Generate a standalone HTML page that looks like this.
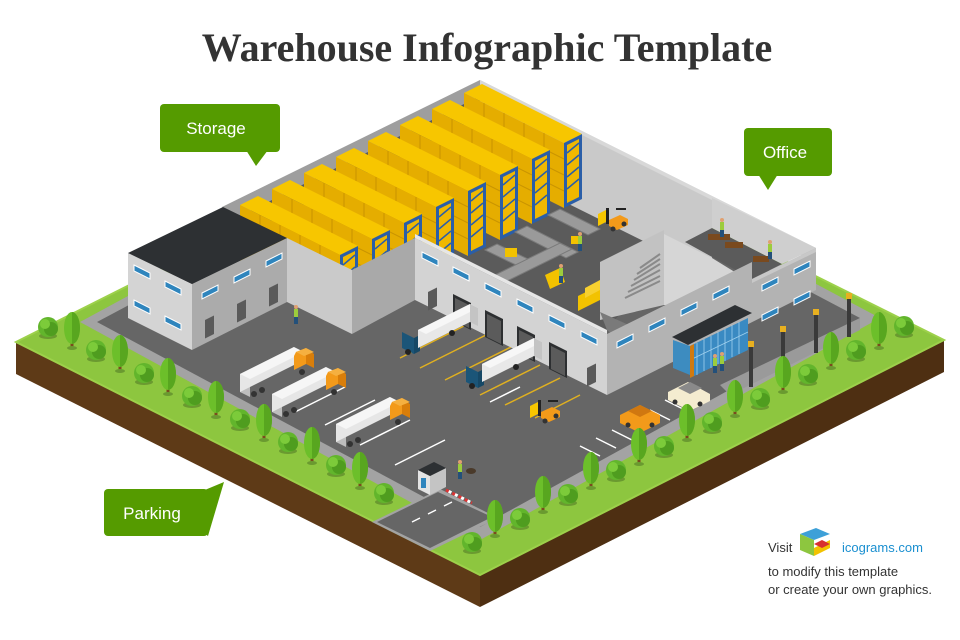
<!DOCTYPE html>
<html><head><meta charset="utf-8"><style>
html,body{margin:0;padding:0;background:#fff;}
svg{display:block}
</style></head><body>
<svg width="960" height="640" viewBox="0 0 960 640" xmlns="http://www.w3.org/2000/svg" font-family="Liberation Sans, sans-serif">
<defs>
<g id="tree"><rect x="-1.5" y="-6" width="3" height="8" fill="#7a4a1e"/><ellipse cx="0" cy="1" rx="5" ry="2" fill="#6a9a30"/><ellipse cx="0" cy="-19" rx="8" ry="16" fill="#6cbf2a"/><path d="M0,-35 A8,16 0 0 1 0,-3 Z" fill="#58a61f"/></g>
<g id="bush"><ellipse cx="0" cy="9" rx="9" ry="3" fill="#6a9a30"/><circle cx="0" cy="0" r="10" fill="#62b52c"/><circle cx="3" cy="2" r="7" fill="#4f9d1f"/><circle cx="-3" cy="-3" r="5" fill="#7ccb3a"/></g>
<g id="truckO"><polygon points="0,0 10,5 10,-13 0,-18" fill="#bdbdbd"/><polygon points="0,0 54,-27 54,-45 0,-18" fill="#e6e6e6"/><polygon points="0,-18 54,-45 64,-40 10,-13" fill="#f6f6f6"/><polygon points="54,-22 66,-28 66,-44 56,-40 54,-36" fill="#f39a1a"/><polygon points="66,-28 74,-24 74,-38 66,-44" fill="#d97e0a"/><polygon points="56,-40 66,-44 74,-40 64,-36" fill="#f5b040"/><circle cx="14" cy="2" r="3" fill="#333"/><circle cx="22" cy="-2" r="3" fill="#333"/><circle cx="62" cy="-20" r="3" fill="#333"/></g>
<g id="truckB"><polygon points="0,0 12,6 12,-10 0,-16" fill="#1b5578"/><polygon points="12,6 18,3 18,-13 12,-10" fill="#164866"/><polygon points="16,0 68,-26 68,-44 16,-18" fill="#e8e8e8"/><polygon points="16,-18 68,-44 76,-40 24,-14" fill="#f7f7f7"/><polygon points="68,-26 76,-22 76,-40 68,-44" fill="#c4c4c4"/><circle cx="6" cy="4" r="3" fill="#222"/><circle cx="50" cy="-15" r="3" fill="#222"/></g>
<g id="winL"><polygon points="0,0 16,8 16,14 0,6" fill="#2f85bd" stroke="#fff" stroke-width="1"/></g>
<g id="winR"><polygon points="0,0 16,-8 16,-2 0,6" fill="#2f85bd" stroke="#fff" stroke-width="1"/></g>
<g id="doorL"><polygon points="0,0 18,9 18,36 0,27" fill="#2d2f31"/><polygon points="2,4 16,11 16,34 2,27" fill="#5b5b5b"/></g>
<g id="vent"><polygon points="0,0 9,-4.5 9,14 0,18.5" fill="#5a5a5a"/></g>
<g id="rack">
 <polygon points="0,0 100,50 118,41 18,-9" fill="#f7c600"/>
 <polygon points="0,0 100,50 100,115 0,65" fill="#e5ad00"/>
 <polygon points="100,50 118,41 118,106 100,115" fill="#2a5ea8"/>
 <polygon points="103,52 115,46 115,104 103,110" fill="#f0b800"/>
 <path d="M0,16 L100,66 M0,32 L100,82 M0,48 L100,98 M20,10 L20,75 M40,20 L40,85 M60,30 L60,95 M80,40 L80,105" stroke="#c99400" stroke-width="1"/>
 <path d="M103,60 L115,50 M103,72 L115,62 M103,84 L115,74 M103,96 L115,86" stroke="#2a5ea8" stroke-width="1.5"/>
</g>
<g id="person"><rect x="-2" y="-14" width="4" height="8" fill="#9ccc3c"/><circle cx="0" cy="-16" r="2" fill="#e0a070"/><rect x="-2" y="-6" width="4" height="7" fill="#23507a"/></g>
<g id="fork"><polygon points="-8,-14 0,-18 0,-6 -8,-2" fill="#f7c600"/><rect x="0" y="-20" width="3" height="16" fill="#222"/><polygon points="3,-8 14,-13 22,-9 22,-3 11,2 3,-2" fill="#f39a1a"/><rect x="10" y="-20" width="10" height="2" fill="#222"/><circle cx="7" cy="1" r="2.5" fill="#333"/><circle cx="18" cy="-4" r="2.5" fill="#333"/></g>
</defs>

<text x="487" y="61" text-anchor="middle" font-family="Liberation Serif, serif" font-weight="bold" font-size="40" fill="#333">Warehouse Infographic Template</text>

<polygon points="16,342 480,575 480,607 16,374" fill="#5e3a17"/>
<polygon points="480,575 944,340 944,372 480,607" fill="#4e2f12"/>
<polygon points="16,342 480,109 944,340 480,575" fill="#8dc63f"/>
<polygon points="16,342 480,109 944,340 480,575" fill="none" stroke="#9dd14b" stroke-width="2"/>
<polygon points="80,322 480,105 880,318 480,540" fill="#a3a3a3"/>
<polygon points="97,322 480,118 860,318 480,527" fill="#666"/>
<polygon points="372,522 430,551 498,518 440,489" fill="#a3a3a3"/>
<polygon points="377,522 430,548 492,517 438,492" fill="#666"/>
<path d="M412,522 L420,518 M428,514 L436,510 M444,506 L452,502" stroke="#fff" stroke-width="1.5"/>
<polygon points="730,395 860,330 860,318 720,385" fill="#9a9a9a"/>

<g stroke="#fff" stroke-width="1.5">
<path d="M295,412 L345,387 M325,425 L375,400 M360,445 L410,420 M395,465 L445,440 M490,402 L520,387"/>
<path d="M612,430 L632,440 M596,438 L616,448 M580,446 L600,456 M650,410 L670,420 M665,400 L685,410"/>
</g>
<g stroke="#e0b020" stroke-width="1.5">
<path d="M400,358 L470,323 M420,368 L490,333 M445,380 L515,345 M480,395 L540,365 M505,405 L560,378 M535,418 L580,395"/>
</g>

<polygon points="230,208 480,82 712,198 607,330 415,238 352,268 287,238" fill="#5b5b5b"/>
<polygon points="222,207 480,80 480,96 240,216" fill="#9e9e9e"/>
<polygon points="480,80 816,248 816,262 712,214 712,275 480,160" fill="#c9c9c9"/>
<polygon points="480,80 816,248 816,252 480,84" fill="#d8d8d8"/>

<use href="#rack" x="464" y="93"/>
<use href="#rack" x="432" y="109"/>
<use href="#rack" x="400" y="125"/>
<use href="#rack" x="368" y="141"/>
<use href="#rack" x="336" y="157"/>
<use href="#rack" x="304" y="173"/>
<use href="#rack" x="272" y="189"/>
<use href="#rack" x="240" y="205"/>

<g fill="#9a9a9a" stroke="#7a7a7a" stroke-width="1">
<polygon points="548,215 560,209 600,229 588,235"/>
<polygon points="515,232 527,226 578,252 566,258"/>
<polygon points="485,250 497,244 530,260 518,266"/>
<polygon points="495,275 560,243 572,249 507,281"/>
</g>
<rect x="505" y="248" width="12" height="9" fill="#f2c200"/>
<rect x="571" y="236" width="10" height="8" fill="#f2c200"/>
<polygon points="545,275 560,268 565,282 550,289" fill="#f2c200"/>
<use href="#fork" x="606" y="228"/>
<use href="#person" x="580" y="250"/>
<use href="#person" x="561" y="282"/>
<polygon points="578,296 600,285 600,300 578,311" fill="#f2c200"/>
<polygon points="585,288 600,280 600,290 585,298" fill="#f7d030"/>

<polygon points="600,262 664,230 664,305 600,320" fill="#c2c2c2"/>
<g stroke="#8a8a8a" stroke-width="2"><path d="M625,298 L660,281 M628,292 L660,276 M631,286 L660,270 M634,280 L660,264 M637,274 L660,259 M640,268 L660,254"/></g>
<polygon points="600,312 640,330 620,340 607,330" fill="#7a7a7a"/>
<polygon points="664,234 712,258 738,274 738,310 664,305" fill="#d6d6d6"/>
<polygon points="685,242 712,228 782,264 752,279" fill="#5b5b5b"/>
<polygon points="712,198 816,248 782,264 712,228" fill="#cfcfcf"/>
<rect x="708" y="234" width="22" height="6" fill="#7a4a1e"/>
<rect x="725" y="242" width="18" height="6" fill="#7a4a1e"/>
<rect x="753" y="256" width="16" height="6" fill="#7a4a1e"/>
<use href="#person" x="722" y="236"/>
<use href="#person" x="770" y="258"/>

<polygon points="415,238 607,334 607,395 415,300" fill="#d3d3d3"/>
<polygon points="415,238 607,334 607,330 415,234" fill="#e6e6e6"/>
<polygon points="607,334 752,262 752,279 816,248 816,290 607,395" fill="#b3b3b3"/>
<polygon points="752,279 816,248 816,252 752,283" fill="#c8c8c8"/>
<polygon points="287,238 352,270 352,334 287,302" fill="#cacaca"/>
<polygon points="352,270 415,238 415,300 352,334" fill="#a9a9a9"/>
<polygon points="128,253 192,284 192,350 128,318" fill="#d4d4d4"/>
<polygon points="192,284 287,238 287,302 192,350" fill="#ababab"/>
<polygon points="128,253 223,207 287,238 192,284" fill="#2d3033"/>

<use href="#winL" x="134" y="265"/><use href="#winL" x="165" y="281"/>
<use href="#winL" x="134" y="300"/><use href="#winL" x="165" y="316"/>
<use href="#winR" x="202" y="293"/><use href="#winR" x="234" y="277"/><use href="#winR" x="266" y="261"/>
<use href="#vent" x="205" y="320"/><use href="#vent" x="237" y="304"/><use href="#vent" x="269" y="288"/>
<use href="#winL" x="422" y="252"/><use href="#winL" x="453" y="267"/><use href="#winL" x="485" y="283"/><use href="#winL" x="517" y="299"/><use href="#winL" x="549" y="315"/><use href="#winL" x="581" y="331"/>
<use href="#vent" x="428" y="292"/>
<use href="#doorL" x="453" y="294"/><use href="#doorL" x="485" y="310"/><use href="#doorL" x="517" y="326"/><use href="#doorL" x="549" y="342"/>
<use href="#vent" x="587" y="368"/>
<use href="#winR" x="617" y="342"/><use href="#winR" x="649" y="326"/><use href="#winR" x="681" y="310"/><use href="#winR" x="713" y="294"/>
<use href="#winR" x="762" y="285"/><use href="#winR" x="794" y="269"/><use href="#winR" x="762" y="315"/><use href="#winR" x="794" y="299"/>

<polygon points="673,340 690,346 690,375 673,368" fill="#3d8cc0"/>
<polygon points="690,346 748,318 748,350 690,378" fill="#3a8ac2"/>
<g stroke="#9fd0ee" stroke-width="0.8"><path d="M697,343 L697,375 M704,339 L704,371 M711,336 L711,368 M718,332 L718,364 M725,329 L725,361 M732,325 L732,357 M739,322 L739,354 M690,360 L748,332"/></g>
<polygon points="690,346 694,344 694,376 690,378" fill="#d07a10"/>
<polygon points="672,337 735,305 752,313 688,345" fill="#2d3033"/>
<use href="#person" x="715" y="372"/><use href="#person" x="722" y="370"/>

<g><rect x="749" y="345" width="4" height="42" fill="#3a3a3a"/><rect x="748" y="341" width="6" height="6" fill="#e8b020"/>
<rect x="781" y="330" width="4" height="40" fill="#3a3a3a"/><rect x="780" y="326" width="6" height="6" fill="#e8b020"/>
<rect x="814" y="313" width="4" height="40" fill="#3a3a3a"/><rect x="813" y="309" width="6" height="6" fill="#e8b020"/>
<rect x="847" y="297" width="4" height="40" fill="#3a3a3a"/><rect x="846" y="293" width="6" height="6" fill="#e8b020"/></g>

<use href="#truckO" x="240" y="392"/>
<use href="#truckO" x="272" y="412"/>
<use href="#truckO" x="336" y="442"/>
<use href="#truckB" x="402" y="348"/>
<use href="#truckB" x="466" y="382"/>

<use href="#fork" x="538" y="420"/>
<use href="#person" x="296" y="323"/>
<use href="#person" x="460" y="478"/>
<ellipse cx="471" cy="471" rx="5" ry="3" fill="#4a3a2a"/>

<g><polygon points="620,415 640,405 660,415 660,423 640,433 620,423" fill="#f39a1a"/><polygon points="628,411 640,405 652,411 640,417" fill="#d07810"/><circle cx="628" cy="425" r="2.5" fill="#333"/><circle cx="652" cy="425" r="2.5" fill="#333"/></g>
<g><polygon points="668,392 688,382 710,394 710,401 690,411 668,400" fill="#f4ecd0"/><polygon points="678,388 690,382 702,388 690,394" fill="#8a8a8a"/><circle cx="675" cy="402" r="2.5" fill="#333"/><circle cx="700" cy="404" r="2.5" fill="#333"/></g>

<polygon points="418,470 430,476 430,495 418,489" fill="#e4e4e4"/>
<polygon points="430,476 446,468 446,487 430,495" fill="#c4c4c4"/>
<polygon points="418,470 434,462 446,468 430,476" fill="#2d3033"/>
<rect x="421" y="478" width="5" height="10" fill="#2f85bd"/>
<line x1="446" y1="490" x2="472" y2="503" stroke="#d33" stroke-width="3" stroke-dasharray="4 3"/>
<line x1="446" y1="490" x2="472" y2="503" stroke="#fff" stroke-width="3" stroke-dasharray="3 4" stroke-dashoffset="4"/>

<use href="#bush" x="48" y="327"/><use href="#bush" x="96" y="350"/><use href="#bush" x="144" y="373"/><use href="#bush" x="192" y="396"/><use href="#bush" x="240" y="419"/><use href="#bush" x="288" y="442"/><use href="#bush" x="336" y="465"/><use href="#bush" x="384" y="493"/>
<use href="#tree" x="72" y="347"/><use href="#tree" x="120" y="370"/><use href="#tree" x="168" y="393"/><use href="#tree" x="216" y="416"/><use href="#tree" x="264" y="439"/><use href="#tree" x="312" y="462"/><use href="#tree" x="360" y="487"/>
<use href="#bush" x="472" y="542"/><use href="#bush" x="520" y="518"/><use href="#bush" x="568" y="494"/><use href="#bush" x="616" y="470"/><use href="#bush" x="664" y="446"/><use href="#bush" x="712" y="422"/><use href="#bush" x="760" y="398"/><use href="#bush" x="808" y="374"/><use href="#bush" x="856" y="350"/><use href="#bush" x="904" y="326"/>
<use href="#tree" x="495" y="535"/><use href="#tree" x="543" y="511"/><use href="#tree" x="591" y="487"/><use href="#tree" x="639" y="463"/><use href="#tree" x="687" y="439"/><use href="#tree" x="735" y="415"/><use href="#tree" x="783" y="391"/><use href="#tree" x="831" y="367"/><use href="#tree" x="879" y="347"/>

<g fill="#559b00">
<rect x="160" y="104" width="120" height="48" rx="4"/><polygon points="246,150 268,150 256,166"/>
<rect x="744" y="128" width="88" height="48" rx="4"/><polygon points="758,174 778,174 768,190"/>
<rect x="104" y="489" width="104" height="47" rx="4"/><polygon points="200,492 224,482 208,536 200,530"/>
</g>
<g fill="#fff" font-size="17" text-anchor="middle">
<text x="216" y="134">Storage</text>
<text x="785" y="158">Office</text>
<text x="152" y="519">Parking</text>
</g>

<text x="768" y="552" font-size="13" fill="#333">Visit</text>
<g><polygon points="800,534 816,528 830,534 814,540" fill="#3da0d8"/><polygon points="800,534 814,540 814,556 800,550" fill="#8dc63f"/><polygon points="814,556 830,548 830,540 822,544 814,548" fill="#f2c200"/><polygon points="814,544 822,540 830,544 822,548" fill="#d83030"/></g>
<text x="842" y="552" font-size="13" fill="#1a8fd0">icograms.com</text>
<text x="768" y="576" font-size="13" fill="#333">to modify this template</text>
<text x="768" y="594" font-size="13" fill="#333">or create your own graphics.</text>
</svg>
</body></html>
